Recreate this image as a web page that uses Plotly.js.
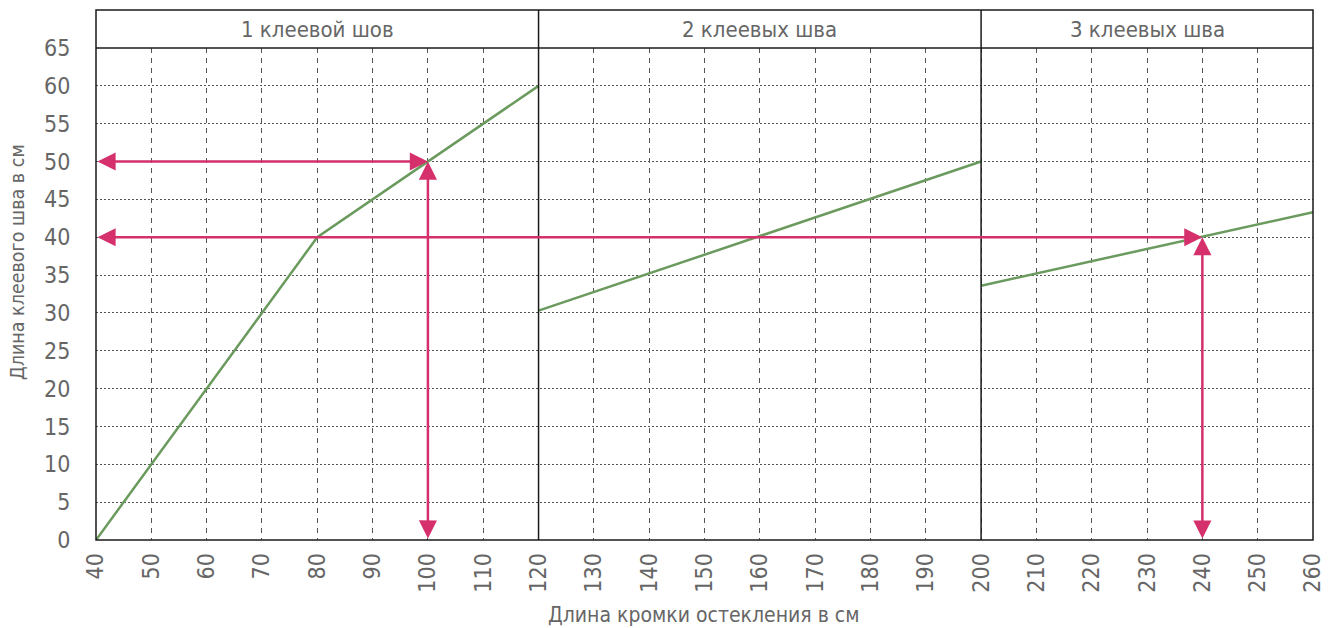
<!DOCTYPE html>
<html>
<head>
<meta charset="utf-8">
<script src="https://cdn.plot.ly/plotly-3.0.1.min.js"></script>
<style>html,body{margin:0;padding:0;background:#fff;}#chart{width:1340px;height:628px;}</style>
</head>
<body>
<div id="chart"></div>
<script>
// Data
var seg1X = [40, 80, 120];
var seg1Y = [0, 40, 60];
var seg2X = [120, 200];
var seg2Y = [30.3, 50];
var seg3X = [200, 260];
var seg3Y = [33.6, 43.3];
var xTicks = [40,50,60,70,80,90,100,110,120,130,140,150,160,170,180,190,200,210,220,230,240,250,260];
var yTicks = [0,5,10,15,20,25,30,35,40,45,50,55,60,65];
var sectionNames = ['1 клеевой шов', '2 клеевых шва', '3 клеевых шва'];
var sectionBounds = [40, 120, 200, 260];
// example readings: [x, y]
var examples = [[100, 50], [240, 40]];
var xTitle = 'Длина кромки остекления в см';
var yTitle = 'Длина клеевого шва в см';

var FONT = '"DejaVu Sans Condensed", "Liberation Sans", sans-serif';
var TXT = '#666666';
var GREEN = '#6b9a5e';
var PINK = '#d5306c';
var headerTop = 1 + 38 / 492;

var traces = [seg1X, seg2X, seg3X].map(function (xs, i) {
  return {
    x: xs, y: [seg1Y, seg2Y, seg3Y][i], mode: 'lines', type: 'scatter',
    line: {color: GREEN, width: 2.5}, hoverinfo: 'skip', showlegend: false
  };
});

var shapes = [];
shapes.push({type: 'rect', xref: 'paper', yref: 'paper', x0: 0, x1: 1, y0: 0, y1: headerTop,
  line: {color: '#1a1a1a', width: 1.5}});
shapes.push({type: 'line', xref: 'paper', yref: 'paper', x0: 0, x1: 1, y0: 1, y1: 1,
  line: {color: '#1a1a1a', width: 1.5}});
for (var i = 1; i < sectionBounds.length - 1; i++) {
  shapes.push({type: 'line', xref: 'x', yref: 'paper', x0: sectionBounds[i], x1: sectionBounds[i],
    y0: 0, y1: headerTop, line: {color: '#1a1a1a', width: 1.5}});
}

var annotations = [];
sectionNames.forEach(function (name, i) {
  annotations.push({
    x: (sectionBounds[i] + sectionBounds[i + 1]) / 2, xref: 'x',
    y: (1 + headerTop) / 2, yref: 'paper', text: name, showarrow: false,
    font: {family: FONT, size: 22, color: TXT}, yanchor: 'middle'
  });
});
examples.forEach(function (p) {
  annotations.push({x: p[0], y: p[1], ax: sectionBounds[0], ay: p[1], xref: 'x', yref: 'y', axref: 'x', ayref: 'y',
    text: '', showarrow: true, arrowhead: 2, startarrowhead: 2, arrowside: 'end+start',
    arrowsize: 1.45, startarrowsize: 1.45, arrowwidth: 2.5, arrowcolor: PINK, standoff: 0, startstandoff: 0});
  annotations.push({x: p[0], y: p[1], ax: p[0], ay: 0, xref: 'x', yref: 'y', axref: 'x', ayref: 'y',
    text: '', showarrow: true, arrowhead: 2, startarrowhead: 2, arrowside: 'end+start',
    arrowsize: 1.45, startarrowsize: 1.45, arrowwidth: 2.5, arrowcolor: PINK, standoff: 0, startstandoff: 0});
});
// axis titles
annotations.push({xref: 'paper', yref: 'paper', x: (17 - 96) / 1217, y: (540 - 262) / 492,
  text: yTitle, textangle: -90, showarrow: false, xanchor: 'center', yanchor: 'middle',
  font: {family: FONT, size: 19.5, color: TXT}});
annotations.push({xref: 'paper', yref: 'paper', x: (703 - 96) / 1217, y: (540 - 615) / 492,
  text: xTitle, showarrow: false, xanchor: 'center', yanchor: 'middle',
  font: {family: FONT, size: 21, color: TXT}});

var layout = {
  width: 1340, height: 628,
  margin: {l: 96, r: 27, t: 48, b: 88},
  paper_bgcolor: '#fff', plot_bgcolor: '#fff',
  showlegend: false,
  font: {family: FONT, color: TXT},
  xaxis: {
    range: [40, 260], tickvals: xTicks, ticktext: xTicks.map(String), tickangle: -90,
    tickfont: {family: FONT, size: 23, color: TXT},
    showgrid: true, gridcolor: '#555', gridwidth: 1, griddash: '5px,5px',
    zeroline: false, showline: false, ticks: 'outside', ticklen: 3, tickcolor: 'rgba(0,0,0,0)'
  },
  yaxis: {
    range: [0, 65], tickvals: yTicks, ticktext: yTicks.map(String),
    tickfont: {family: FONT, size: 23, color: TXT},
    showgrid: true, gridcolor: '#555', gridwidth: 1, griddash: '2px,2px',
    zeroline: false, showline: false, ticks: 'outside', ticklen: 20, tickcolor: 'rgba(0,0,0,0)'
  },
  shapes: shapes,
  annotations: annotations
};

Plotly.newPlot('chart', traces, layout, {staticPlot: true, displayModeBar: false});
</script>
</body>
</html>
